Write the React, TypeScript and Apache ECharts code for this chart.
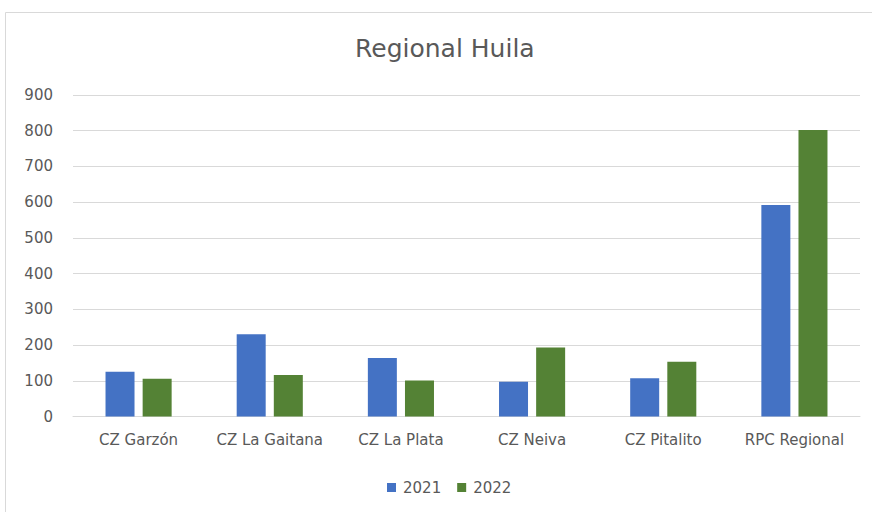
import React, { useEffect, useRef } from "react";
import * as echarts from "echarts";

const categories = ["CZ Garzón", "CZ La Gaitana", "CZ La Plata", "CZ Neiva", "CZ Pitalito", "RPC Regional"];
const values2021 = [125, 230, 164, 97, 107, 592];
const values2022 = [106, 116, 101, 193, 153, 802];
const seriesNames = ["2021", "2022"];
const titleText = "Regional Huila";

export default function App() {
  const ref = useRef<HTMLDivElement>(null);
  useEffect(() => {
    if (!ref.current) return;
    const chart = echarts.init(ref.current, null, { renderer: "svg" });
    const font = "'DejaVu Sans', 'Noto Sans', sans-serif";
    chart.setOption({
      animation: false,
      backgroundColor: "#ffffff",
      graphic: [
        {
          type: "rect",
          shape: { x: 5.5, y: 12.5, width: 900, height: 520 },
          style: { fill: "none", stroke: "#d9d9d9", lineWidth: 1 },
          silent: true,
        },
      ],
      title: {
        text: titleText,
        left: 350,
        top: 31,
        textStyle: { color: "#595959", fontSize: 25, fontWeight: "normal", fontFamily: font },
      },
      legend: {
        data: seriesNames,
        bottom: 12,
        left: 382,
        itemWidth: 9,
        itemHeight: 9,
        itemGap: 16,
        icon: "rect",
        textStyle: { color: "#595959", fontSize: 15, fontFamily: font, padding: [0, 0, 0, 2] },
      },
      grid: { left: 73, right: 12, top: 95, bottom: 95.5, containLabel: false },
      xAxis: {
        type: "category",
        data: categories,
        axisLine: { lineStyle: { color: "#d9d9d9" } },
        axisTick: { show: false },
        axisLabel: { color: "#595959", fontSize: 15, fontFamily: font, margin: 16, interval: 0 },
      },
      yAxis: {
        type: "value",
        min: 0,
        max: 900,
        interval: 100,
        axisLine: { show: false },
        axisTick: { show: false },
        splitLine: { lineStyle: { color: "#d9d9d9", width: 1 } },
        axisLabel: { color: "#595959", fontSize: 15, fontFamily: font, margin: 20 },
      },
      series: [
        {
          name: seriesNames[0],
          type: "bar",
          data: values2021,
          barWidth: 29,
          barGap: "28%",
          itemStyle: { color: "#4472c4" },
        },
        {
          name: seriesNames[1],
          type: "bar",
          data: values2022,
          barWidth: 29,
          itemStyle: { color: "#548235" },
        },
      ],
    });
    return () => chart.dispose();
  }, []);
  return (
    <div
      ref={ref}
      style={{ position: "fixed", left: 0, top: 0, width: 872, height: 512 }}
    />
  );
}
